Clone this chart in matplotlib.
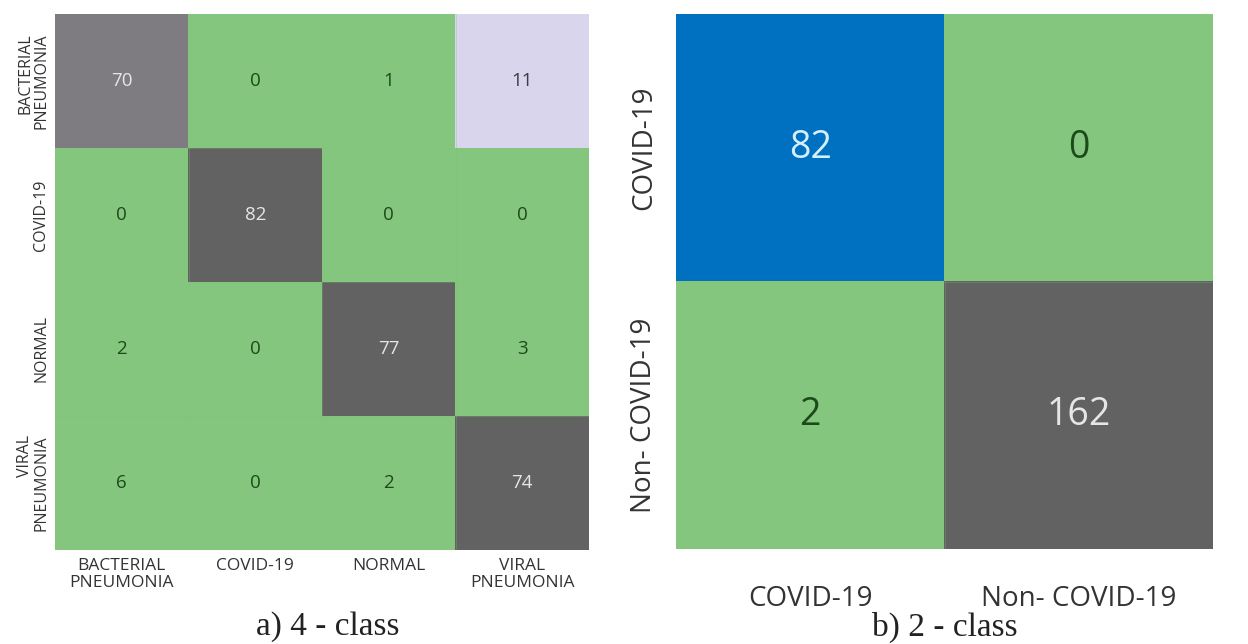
import matplotlib
matplotlib.use('Agg')

import numpy as np
import matplotlib.pyplot as plt
from matplotlib.colors import to_rgb

# 4-class confusion matrix (rows = true, cols = predicted)
classes_4 = ["BACTERIAL\nPNEUMONIA", "COVID-19", "NORMAL", "VIRAL\nPNEUMONIA"]
cm_4 = [
    [70, 0, 1, 11],
    [0, 82, 0, 0],
    [2, 0, 77, 3],
    [6, 0, 2, 74],
]

# 2-class confusion matrix
classes_2 = ["COVID-19", "Non- COVID-19"]
cm_2 = [
    [82, 0],
    [2, 162],
]

GREEN = "#85c67e"
DARK = "#626262"
GREEN_TXT = "#1d4a1b"
LIGHT_TXT = "#e6e6e6"


def cell_style(cm, special):
    """Build RGB image and text colour grid: diagonal dark, off-diagonal green."""
    cm = np.asarray(cm)
    n = cm.shape[0]
    img = np.zeros((n, n, 3))
    txt = np.empty((n, n), dtype=object)
    for i in range(n):
        for j in range(n):
            if i == j:
                face, fg = DARK, LIGHT_TXT
            else:
                face, fg = GREEN, GREEN_TXT
            if (i, j) in special:
                face, fg = special[(i, j)]
            img[i, j] = to_rgb(face)
            txt[i, j] = fg
    return img, txt


def draw_cm(ax, cm, labels, special, num_size, xt_size, yt_size, xpad, ypad):
    cm = np.asarray(cm)
    n = cm.shape[0]
    img, txt = cell_style(cm, special)
    ax.imshow(img, aspect="auto", interpolation="nearest")
    for i in range(n):
        for j in range(n):
            ax.text(j, i, str(cm[i, j]), ha="center", va="center",
                    fontsize=num_size, color=txt[i, j], family="Open Sans")
    # faint seams between cells
    ax.set_xticks(np.arange(1, n) - 0.5, minor=True)
    ax.set_yticks(np.arange(1, n) - 0.5, minor=True)
    ax.grid(which="minor", color="#7fbd78", linewidth=0.4, alpha=0.5)
    ax.tick_params(which="both", length=0)
    ax.set_xticks(np.arange(n))
    ax.set_yticks(np.arange(n))
    ax.set_xticklabels(labels, fontsize=xt_size, color="#333333",
                       family="Open Sans", linespacing=1.05, va="top")
    ax.set_yticklabels(labels, fontsize=yt_size, color="#333333",
                       family="Open Sans", rotation=90, va="center",
                       linespacing=1.0)
    ax.tick_params(axis="x", pad=xpad)
    ax.tick_params(axis="y", pad=ypad)
    for s in ax.spines.values():
        s.set_visible(False)


fig = plt.figure(figsize=(12.48, 6.44), dpi=100)

ax1 = fig.add_axes([55 / 1248, 1 - 550 / 644, 534 / 1248, 536 / 644])
draw_cm(ax1, cm_4, classes_4,
        {(0, 0): ("#7e7c80", LIGHT_TXT), (0, 3): ("#d8d5ec", "#3c3c48")},
        num_size=13.5, xt_size=12.5, yt_size=11.5, xpad=6, ypad=4)

ax2 = fig.add_axes([676 / 1248, 1 - 549 / 644, 537 / 1248, 535 / 644])
draw_cm(ax2, cm_2, classes_2,
        {(0, 0): ("#0070c0", "#d4f0ff")},
        num_size=27, xt_size=20, yt_size=20, xpad=26, ypad=13)

fig.text(328 / 1248, 1 - 627 / 644, "a) 4 - class", ha="center", va="center",
         fontsize=24, family="Liberation Serif", color="#222222")
fig.text(945 / 1248, 1 - 627 / 644, "b) 2 - class", ha="center", va="center",
         fontsize=24, family="Liberation Serif", color="#222222")

fig.savefig("out.png", dpi=100, facecolor="white")
plt.close(fig)
